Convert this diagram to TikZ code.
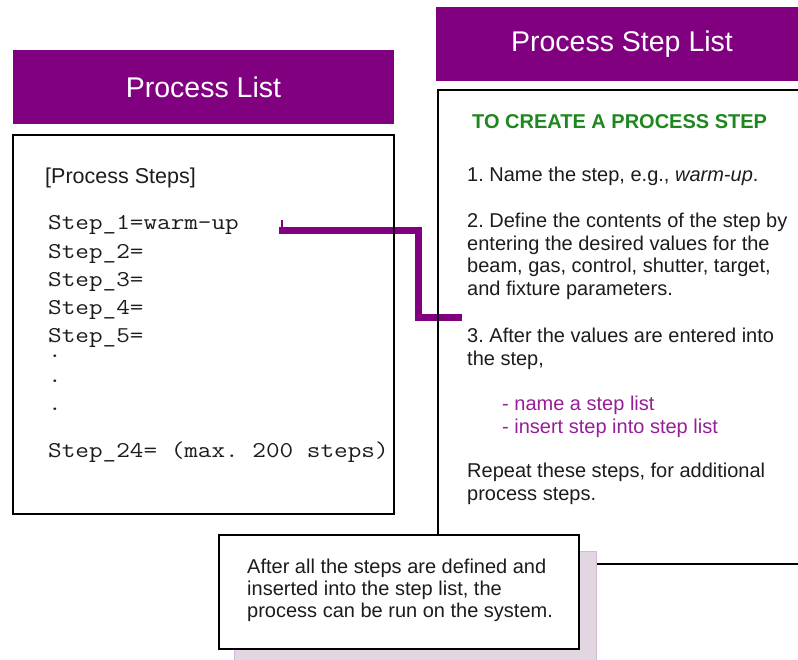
\documentclass[tikz,border=0pt]{standalone}
\usepackage{fontspec}
\setmainfont{Liberation Sans}
\frenchspacing
\definecolor{hdrpurple}{RGB}{128,0,128}
\definecolor{lightpurple}{RGB}{150,30,150}
\definecolor{titlegreen}{RGB}{30,135,30}
\definecolor{shadowpink}{RGB}{225,214,225}
\definecolor{shadowedge}{RGB}{210,188,210}
\definecolor{bodytext}{RGB}{28,28,28}
\newcommand\cdtxt[1]{\scalebox{1.17}[1]{#1}}
\begin{document}
\begin{tikzpicture}[x=1pt,y=-1pt,
  header/.style={fill=hdrpurple, draw=none, text=white, inner sep=0pt,
    font=\fontsize{28.5}{34}\selectfont},
  panel/.style={draw=black, line width=1.6pt, inner sep=0pt},
  notebox/.style={draw=black, line width=1.6pt, fill=white, inner sep=0pt},
  shadowbox/.style={fill=shadowpink, draw=shadowedge, line width=1pt, inner sep=0pt},
  body/.style={anchor=base west, inner sep=0pt, text=bodytext,
    font=\fontsize{20}{23}\selectfont},
  bullet/.style={body, text=lightpurple},
  greentitle/.style={anchor=base west, inner sep=0pt, text=titlegreen,
    font=\bfseries\fontsize{20}{23}\selectfont},
  code/.style={anchor=base west, inner sep=0pt, text=bodytext,
    font=\ttfamily\fontsize{22.6}{26}\selectfont},
  codedot/.style={code, text height=3pt, text depth=0pt},
  link/.style={draw=hdrpurple, line width=7pt},
  linktick/.style={draw=hdrpurple, line width=1.5pt},
]
\useasboundingbox (0,0) rectangle (798,660);
\clip (0,0) rectangle (798,660);

% connector (drawn first so the panel borders cross over it)
\coordinate (s1end) at (279,231);
\coordinate (bendA) at (418,231);
\coordinate (bendB) at (418,318);
\coordinate (s3start) at (462,318);
\coordinate (tick) at (282,220);
\draw[link] (s1end) -- (bendA) -- (bendB) -- (s3start);
\draw[linktick] (tick) -- (tick |- 0,228);

% headers
\node[header, minimum width=381pt, minimum height=74pt] (plhead) at (203.5,87) {Process List};
\node[header, minimum width=372pt, minimum height=74pt] (pslhead) at (622,44) {Process Step List};

% panels
\node[panel, minimum width=381pt, minimum height=379pt] (plbox) at (203.5,324.5) {};
\node[panel, minimum width=372pt, minimum height=474pt] (pslbox) at (624,327) {};

% note with shadow
\node[shadowbox, minimum width=362pt, minimum height=120pt] (noteshadow) at (415,611) {};
\node[notebox, minimum width=360pt, minimum height=114pt] (note) at (399,592) {};

% left panel text
\node[body, font=\fontsize{21.5}{24}\selectfont] (pshdr) at (45,184) {[Process Steps]};
\node[code] (st1) at (48,230) {\cdtxt{Step\_1=warm-up}};
\node[code] (st2) at (48,258.3) {\cdtxt{Step\_2=}};
\node[code] (st3) at (48,286.6) {\cdtxt{Step\_3=}};
\node[code] (st4) at (48,314.5) {\cdtxt{Step\_4=}};
\node[code] (st5) at (48,343) {\cdtxt{Step\_5=}};
\node[codedot] (dot1) at (48,358) {\cdtxt{.}};
\node[codedot] (dot2) at (48,382) {\cdtxt{.}};
\node[codedot] (dot3) at (48,410) {\cdtxt{.}};
\node[code] (st24) at (48,457) {\cdtxt{Step\_24= (max. 200 steps)}};

% right panel text
\node[greentitle] (tocreate) at (472,129) {TO CREATE A PROCESS STEP};
\node[body] (r1) at (467,182) {1. Name the step, e.g., \textit{warm-up}.};
\node[body] (r2a) at (467,228) {2. Define the contents of the step by};
\node[body] (r2b) at (467,250.5) {entering the desired values for the};
\node[body] (r2c) at (467,273) {beam, gas, control, shutter, target,};
\node[body] (r2d) at (467,295.5) {and fixture parameters.};
\node[body] (r3a) at (467,342) {3. After the values are entered into};
\node[body] (r3b) at (467,365) {the step,};
\node[bullet] (b1) at (502,410) {- name a step list};
\node[bullet] (b2) at (502,433) {- insert step into step list};
\node[body] (rpa) at (467,477) {Repeat these steps, for additional};
\node[body] (rpb) at (467,500) {process steps.};

% note text
\node[body] (n1) at (247,573) {After all the steps are defined and};
\node[body] (n2) at (247,595) {inserted into the step list, the};
\node[body] (n3) at (247,617) {process can be run on the system.};
\end{tikzpicture}
\end{document}
